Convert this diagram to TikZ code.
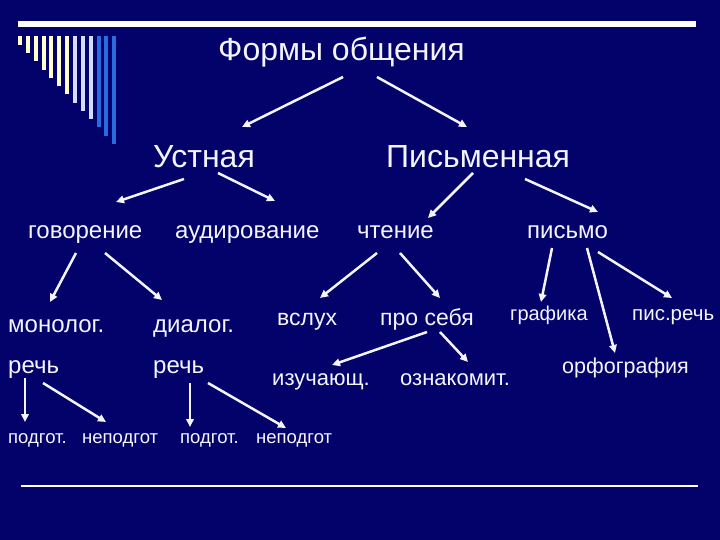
\documentclass[tikz,border=0pt]{standalone}
\usepackage{fontspec}
\setmainfont{Liberation Sans}
\usetikzlibrary{arrows.meta}
\definecolor{navyBg}{HTML}{02026A}
\definecolor{creamBar}{HTML}{FFFFCC}
\definecolor{lavBar}{HTML}{D6DCFF}
\definecolor{blueBar}{HTML}{2A6CE0}
\definecolor{txt}{HTML}{F4F4FF}

\begin{document}
\begin{tikzpicture}[
  x=1pt, y=-1pt,
  lbl/.style={anchor=base west, inner sep=0pt, text=txt},
  big/.style={lbl, font=\fontsize{32}{36}\selectfont},
  mid/.style={lbl, font=\fontsize{24}{28}\selectfont},
  sml/.style={lbl, font=\fontsize{22}{26}\selectfont},
  tny/.style={lbl, font=\fontsize{18.5}{22}\selectfont},
  arr/.style={-{Triangle[length=8pt,width=7.5pt]}, line width=2.5pt, draw=txt},
]

% ---- Background and slide decoration ----
\fill[navyBg] (0,0) rectangle (720,540);
\fill[white] (18,21) rectangle (696,27);
\foreach \i/\c in {0/creamBar,1/creamBar,2/creamBar,3/creamBar,4/creamBar,5/creamBar,6/creamBar,
                   7/lavBar,8/lavBar,9/lavBar,10/blueBar,11/blueBar,12/blueBar}{
  \fill[\c] ({18+\i*7.85},36) rectangle ({22+\i*7.85},{45+\i*8.25});
}
\draw[white, line width=1.5pt] (21,486) -- (698,486);

% ---- Levels ----
\node[big] (forms) at (218,61) {Формы общения};
\node[big] (ust)   at (153,168) {Устная};
\node[big] (pis)   at (386,168) {Письменная};

\node[mid] (gov)  at (28,239)  {говорение};
\node[mid] (aud)  at (175,239) {аудирование};
\node[mid] (cht)  at (357,239) {чтение};
\node[mid] (pism) at (527,239) {письмо};

\node[mid] (mon)   at (8,332)   {монолог.};
\node[mid] (dia)   at (153,332) {диалог.};
\node[mid] (rech1) at (8,373)   {речь};
\node[mid] (rech2) at (153,373) {речь};
\node[sml, font=\fontsize{23}{27}\selectfont] (vsl) at (277,325) {вслух};
\node[sml, font=\fontsize{23}{27}\selectfont] (pro) at (380,325) {про себя};
\node[sml, font=\fontsize{20}{24}\selectfont] (graf) at (510,320) {графика};
\node[sml, font=\fontsize{20.5}{24}\selectfont] (pisr) at (632,320) {пис.речь};
\node[sml]   (izu)   at (272,385) {изучающ.};
\node[sml]   (ozn)   at (400,385) {ознакомит.};
\node[sml, font=\fontsize{21.5}{25}\selectfont] (orf) at (562,373) {орфография};

\node[tny] (podg1) at (8,443)   {подгот.};
\node[tny] (nepo1) at (82,443)  {неподгот};
\node[tny] (podg2) at (180,443) {подгот.};
\node[tny] (nepo2) at (256,443) {неподгот};

% ---- Arrows ----
\draw[arr] ([shift={(125,16)}]forms.base west) -- ([shift={(89,-41)}]ust.base west);
\draw[arr] ([shift={(159,16)}]forms.base west) -- ([shift={(81,-41)}]pis.base west);
\draw[arr] ([shift={(31,11)}]ust.base west) -- ([shift={(88,-37)}]gov.base west);
\draw[arr] ([shift={(65,5)}]ust.base west) -- ([shift={(100,-38)}]aud.base west);
\draw[arr] ([shift={(87,5)}]pis.base west) -- ([shift={(71,-21)}]cht.base west);
\draw[arr] ([shift={(139,11)}]pis.base west) -- ([shift={(71,-27)}]pism.base west);

\draw[arr] ([shift={(48,14)}]gov.base west) -- ([shift={(42,-30)}]mon.base west);
\draw[arr] ([shift={(77,14)}]gov.base west) -- ([shift={(9,-32)}]dia.base west);
\draw[arr] ([shift={(20,14)}]cht.base west) -- ([shift={(43,-27)}]vsl.base west);
\draw[arr] ([shift={(43,14)}]cht.base west) -- ([shift={(60,-27)}]pro.base west);
\draw[arr] ([shift={(25,9)}]pism.base west) -- ([shift={(31,-18)}]graf.base west);
\draw[arr] ([shift={(60,9)}]pism.base west) -- ([shift={(53,-20)}]orf.base west);
\draw[arr] ([shift={(71,13)}]pism.base west) -- ([shift={(40,-22)}]pisr.base west);

\draw[arr] ([shift={(47,7)}]pro.base west) -- ([shift={(60,-20)}]izu.base west);
\draw[arr] ([shift={(60,7)}]pro.base west) -- ([shift={(68,-23)}]ozn.base west);

\draw[arr] ([shift={(17,5)}]rech1.base west) -- ([shift={(17,-21)}]podg1.base west);
\draw[arr] ([shift={(35,10)}]rech1.base west) -- ([shift={(24,-21)}]nepo1.base west);
\draw[arr] ([shift={(37,10)}]rech2.base west) -- ([shift={(10,-16)}]podg2.base west);
\draw[arr] ([shift={(55,10)}]rech2.base west) -- ([shift={(30,-15)}]nepo2.base west);

\end{tikzpicture}
\end{document}
